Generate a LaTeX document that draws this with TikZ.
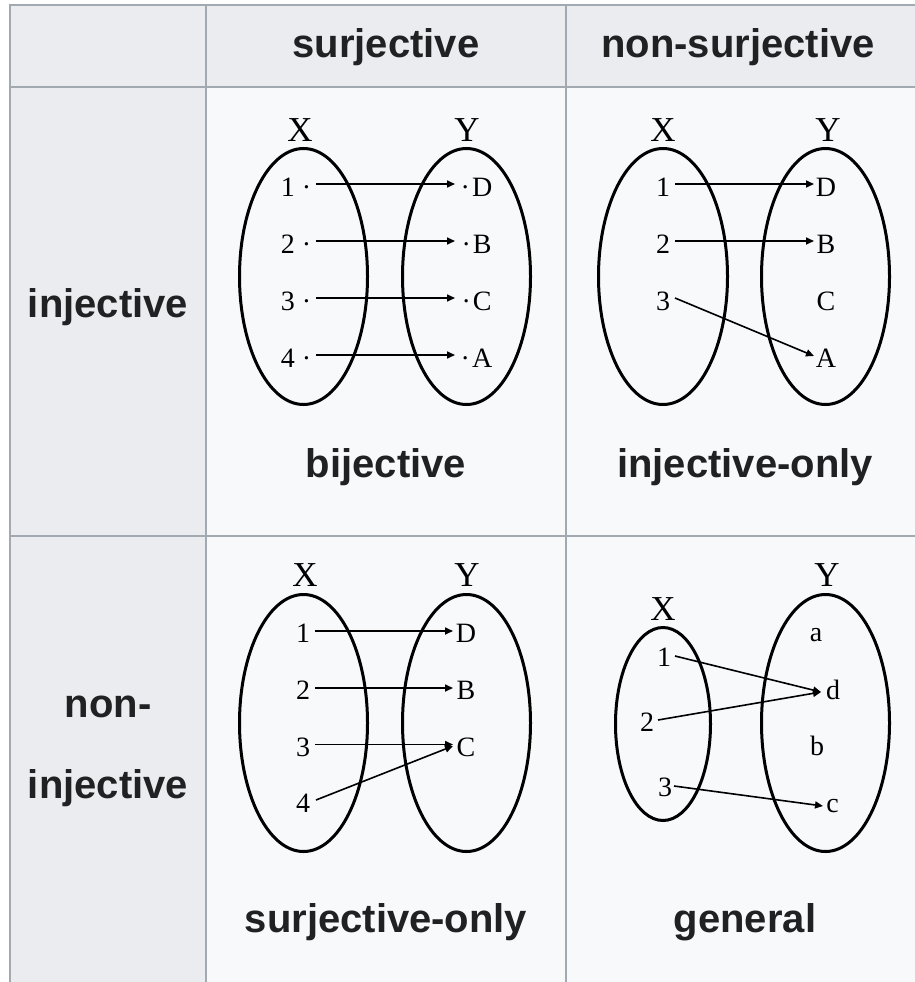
\documentclass[tikz,border=0pt]{standalone}
\usepackage{fontspec}
\setmainfont{Liberation Serif}
\newfontfamily\hfont{Liberation Sans}
\usetikzlibrary{arrows.meta,shapes.geometric}
\definecolor{hdrbg}{HTML}{EAECF0}
\definecolor{cellbg}{HTML}{F8F9FA}
\definecolor{rulec}{HTML}{A2A9B1}
\definecolor{inkc}{HTML}{202122}
\begin{document}
\begin{tikzpicture}[x=1pt,y=-1pt,
  hdr/.style={font=\hfont\bfseries\fontsize{40}{48}\selectfont, text=inkc, anchor=base, inner sep=0pt},
  setlbl/.style={font=\fontsize{35}{40}\selectfont, anchor=base, inner sep=0pt},
  elt/.style={font=\fontsize{28}{32}\selectfont, anchor=base, inner sep=0pt},
  setbox/.style n args={2}{draw, ellipse, line width=3pt, inner sep=0pt, outer sep=0pt, minimum width=#1, minimum height=#2},
  arr/.style={line width=1.6pt, -{Triangle[length=8pt,width=7pt]}},
  gridline/.style={draw=rulec, line width=1.5pt}]
\useasboundingbox (0,0) rectangle (915,982);
% backgrounds
\fill[white] (0,0) rectangle (915,982);
\fill[hdrbg] (10,5) rectangle (915,87);
\fill[hdrbg] (10,87) rectangle (206,982);
\fill[cellbg] (206,87) rectangle (915,982);
% grid
\path[gridline] (915,5) -- (10,5) -- (10,982);
\path[gridline] (10,87) -- (915,87);
\path[gridline] (10,536) -- (915,536);
\path[gridline] (206,5) -- (206,982);
\path[gridline] (566,5) -- (566,982);
% headers
\node[hdr] (hs) at (386,57) {surjective};
\node[hdr] (hn) at (738,57) {non-surjective};
\node[hdr] (ri) at (108,317) {injective};
\node[hdr] (rn1) at (108,717) {non-};
\node[hdr] (rn2) at (108,798) {injective};
\node[hdr] (cap11) at (386,477) {bijective};
\node[hdr] (cap12) at (745,477) {injective-only};
\node[hdr] (cap21) at (386,932) {surjective-only};
\node[hdr] (cap22) at (745,932) {general};

% ---------- cell (1,1): bijective
\node[setbox={128pt}{256pt}] (X11) at (303.5,276.5) {};
\node[setbox={128pt}{256pt}] (Y11) at (466.5,276.5) {};
\node[setlbl] (lx11) at (300,141.7) {X};
\node[setlbl] (ly11) at (467,141.7) {Y};
\node[elt] (a11) at (296,196) {1 ·};
\node[elt] (a12) at (296,253) {2 ·};
\node[elt] (a13) at (296,310) {3 ·};
\node[elt] (a14) at (296,367) {4 ·};
\node[elt] (b11) at (476.5,196) {·\kern2pt D};
\node[elt] (b12) at (476.5,253) {·\kern2pt B};
\node[elt] (b13) at (476.5,310) {·\kern2pt C};
\node[elt] (b14) at (476.5,367) {·\kern2pt A};
\coordinate (s11) at (316,184); \coordinate (t11) at (455,184);
\coordinate (s12) at (316,241); \coordinate (t12) at (455,241);
\coordinate (s13) at (316,298); \coordinate (t13) at (455,298);
\coordinate (s14) at (316,355); \coordinate (t14) at (455,355);
\draw[arr] (s11) -- (t11);
\draw[arr] (s12) -- (t12);
\draw[arr] (s13) -- (t13);
\draw[arr] (s14) -- (t14);

% ---------- cell (1,2): injective-only
\node[setbox={129pt}{256pt}] (X12) at (663,276.5) {};
\node[setbox={128pt}{256pt}] (Y12) at (825.5,276.5) {};
\node[setlbl] (lx12) at (663,141.7) {X};
\node[setlbl] (ly12) at (828,141.7) {Y};
\node[elt] (c11) at (663,196) {1};
\node[elt] (c12) at (663,253) {2};
\node[elt] (c13) at (663,310) {3};
\node[elt] (d11) at (826,196) {D};
\node[elt] (d12) at (826,253) {B};
\node[elt] (d13) at (826,310) {C};
\node[elt] (d14) at (826,367) {A};
\coordinate (s21) at (675,184); \coordinate (t21) at (814,184);
\coordinate (s22) at (675,241); \coordinate (t22) at (814,241);
\coordinate (s23) at (675,298); \coordinate (t23) at (814,356);
\draw[arr] (s21) -- (t21);
\draw[arr] (s22) -- (t22);
\draw[arr] (s23) -- (t23);

% ---------- cell (2,1): surjective-only
\node[setbox={128pt}{257pt}] (X21) at (303.5,723) {};
\node[setbox={128pt}{257pt}] (Y21) at (466.5,723) {};
\node[setlbl] (lx21) at (305,586.7) {X};
\node[setlbl] (ly21) at (467,586.7) {Y};
\node[elt] (e11) at (303,642) {1};
\node[elt] (e12) at (303,699) {2};
\node[elt] (e13) at (303,756) {3};
\node[elt] (e14) at (303,812) {4};
\node[elt] (f11) at (466,642) {D};
\node[elt] (f12) at (466,699) {B};
\node[elt] (f13) at (466,756) {C};
\coordinate (s31) at (315,631); \coordinate (t31) at (453,631);
\coordinate (s32) at (315,688); \coordinate (t32) at (453,688);
\coordinate (s33) at (315,744.5); \coordinate (t33) at (453,744.5);
\coordinate (s34) at (316,800); \coordinate (t34) at (453,746);
\draw[arr] (s31) -- (t31);
\draw[arr] (s32) -- (t32);
\draw[arr] (s33) -- (t33);
\draw[arr] (s34) -- (t34);

% ---------- cell (2,2): general
\node[setbox={95pt}{193pt}] (X22) at (663,724) {};
\node[setbox={128pt}{257pt}] (Y22) at (825.5,723) {};
\node[setlbl] (lx22) at (663,620) {X};
\node[setlbl] (ly22) at (827,586.7) {Y};
\node[elt] (g11) at (664,666.7) {1};
\node[elt] (g12) at (647,731.7) {2};
\node[elt] (g13) at (665,796.7) {3};
\node[elt] (h11) at (816,641.7) {a};
\node[elt] (h12) at (833,699.3) {d};
\node[elt] (h13) at (817,755) {b};
\node[elt] (h14) at (832.5,812.7) {c};
\coordinate (s41) at (675,656); \coordinate (t41) at (821,692);
\coordinate (s42) at (658,720); \coordinate (t42) at (821,692);
\coordinate (s43) at (674,786); \coordinate (t43) at (823,806);
\draw[arr] (s41) -- (t41);
\draw[arr] (s42) -- (t42);
\draw[arr] (s43) -- (t43);
\end{tikzpicture}
\end{document}
